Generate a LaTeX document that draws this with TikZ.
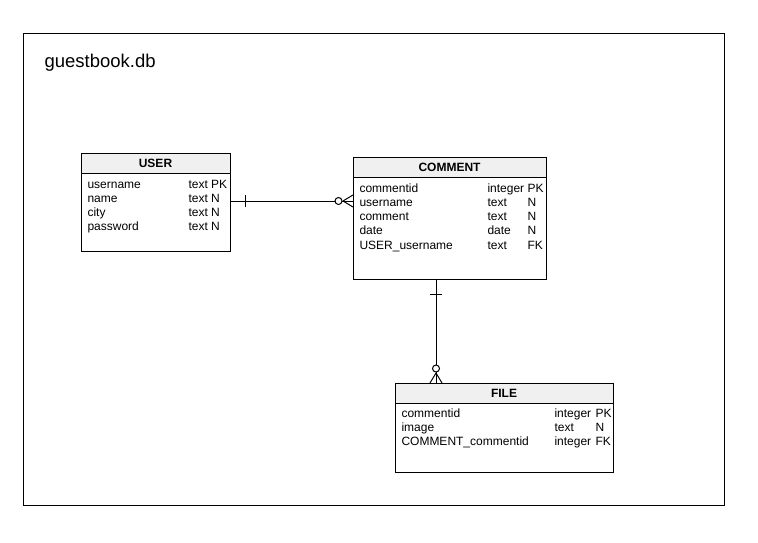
\documentclass[tikz,border=0pt]{standalone}
\usepackage{fontspec}
\setmainfont{Liberation Sans}
\definecolor{hdrgray}{HTML}{F0F0F0}
\begin{document}
\begin{tikzpicture}[x=1pt,y=-1pt,line width=1pt,
  entity/.style={draw, fill=white, rectangle, anchor=north west, inner sep=0pt, outer sep=0pt},
  hdr/.style={draw, fill=hdrgray, rectangle, anchor=north west, inner sep=0pt, outer sep=0pt, minimum height=20pt, font=\bfseries\fontsize{12}{14}\selectfont},
  cell/.style={anchor=base west, inner sep=0pt, font=\fontsize{12}{14}\selectfont},
  conn/.style={draw, line width=1pt}]
\useasboundingbox (0,0) rectangle (758,543);
\node[draw, rectangle, anchor=north west, inner sep=0pt, minimum width=701pt, minimum height=472pt] (frame) at (23,33) {};
\node[anchor=base west, inner sep=0pt, font=\fontsize{18.5}{20}\selectfont] (title) at (44,68) {guestbook.db};
% USER
\node[entity, minimum width=149pt, minimum height=98pt] (user) at (81,153) {};
\node[hdr, minimum width=149pt] (userh) at (81,153) {USER};
\node[cell] (u1) at (87,188) {username};
\node[cell] (u1t) at (188,188) {text PK};
\node[cell] (u2) at (87,202) {name};
\node[cell] (u2t) at (188,202) {text N};
\node[cell] (u3) at (87,216) {city};
\node[cell] (u3t) at (188,216) {text N};
\node[cell] (u4) at (87,230) {password};
\node[cell] (u4t) at (188,230) {text N};
% COMMENT
\node[entity, minimum width=193pt, minimum height=122pt] (comment) at (353,157) {};
\node[hdr, minimum width=193pt] (commenth) at (353,157) {COMMENT};
\node[cell] (c1) at (359,192) {commentid};
\node[cell] (c1t) at (487,192) {integer};
\node[cell] (c1k) at (527,192) {PK};
\node[cell] (c2) at (359,206) {username};
\node[cell] (c2t) at (487,206) {text};
\node[cell] (c2k) at (527,206) {N};
\node[cell] (c3) at (359,220) {comment};
\node[cell] (c3t) at (487,220) {text};
\node[cell] (c3k) at (527,220) {N};
\node[cell] (c4) at (359,234) {date};
\node[cell] (c4t) at (487,234) {date};
\node[cell] (c4k) at (527,234) {N};
\node[cell] (c5) at (359,249) {USER\_username};
\node[cell] (c5t) at (487,249) {text};
\node[cell] (c5k) at (527,249) {FK};
% FILE
\node[entity, minimum width=218pt, minimum height=89pt] (file) at (395,383) {};
\node[hdr, minimum width=218pt] (fileh) at (395,383) {FILE};
\node[cell] (f1) at (401,417) {commentid};
\node[cell] (f1t) at (554,417) {integer};
\node[cell] (f1k) at (595,417) {PK};
\node[cell] (f2) at (401,431) {image};
\node[cell] (f2t) at (554,431) {text};
\node[cell] (f2k) at (595,431) {N};
\node[cell] (f3) at (401,445) {COMMENT\_commentid};
\node[cell] (f3t) at (554,445) {integer};
\node[cell] (f3k) at (595,445) {FK};
% USER -- COMMENT
\coordinate (ua) at ([yshift=1pt]user.east);
\coordinate (cb) at (ua -| comment.west);
\draw[conn] (ua) -- (cb);
\draw[conn] ([xshift=15pt,yshift=-6pt]ua) -- ([xshift=15pt,yshift=6pt]ua);
\draw[conn] ([xshift=-10pt]cb) -- ([yshift=-6pt]cb);
\draw[conn] ([xshift=-10pt]cb) -- ([yshift=6pt]cb);
\draw[conn, fill=white] ([xshift=-14.5pt]cb) circle (3.5pt);
% COMMENT -- FILE
\coordinate (ca) at ([xshift=83pt]comment.south west);
\coordinate (fb) at (ca |- file.north);
\draw[conn] (ca) -- (fb);
\draw[conn] ([xshift=-6pt,yshift=-15pt]ca) -- ([xshift=6pt,yshift=-15pt]ca);
\draw[conn] ([yshift=10pt]fb) -- ([xshift=-6pt]fb);
\draw[conn] ([yshift=10pt]fb) -- ([xshift=6pt]fb);
\draw[conn, fill=white] ([yshift=14.5pt]fb) circle (3.5pt);
\end{tikzpicture}
\end{document}
